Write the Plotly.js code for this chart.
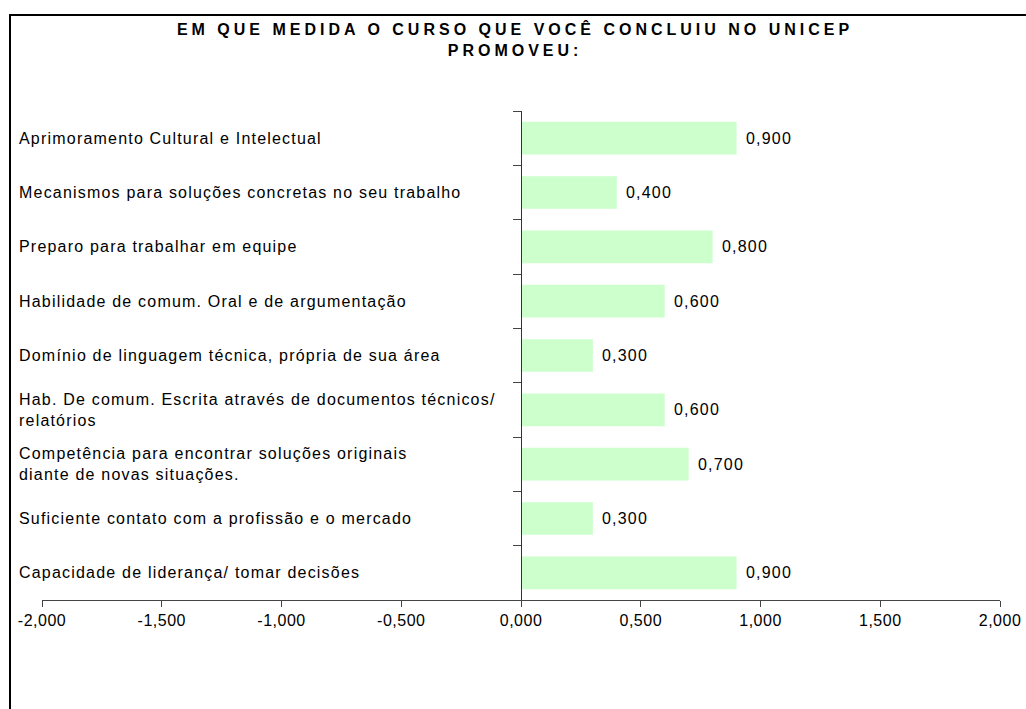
<!DOCTYPE html>
<html><head><meta charset="utf-8">
<script src="https://cdn.plot.ly/plotly-3.0.1.min.js"></script>
<style>
html,body{margin:0;padding:0;background:#fff;overflow:hidden;}
#wrap{position:relative;width:1026px;height:709px;}
#chart{position:absolute;left:0;top:0;width:1026px;height:709px;}
#frame{position:absolute;left:9px;top:14px;width:1040px;height:720px;border-left:2px solid #000;border-top:2px solid #000;pointer-events:none;}
.gtitle{letter-spacing:4px;}
.annotation-text{letter-spacing:1.2px;}
.xtick text{letter-spacing:0.5px;}
</style></head>
<body><div id="wrap"><div id="chart"></div><div id="frame"></div></div>
<script>
const titleText = "EM QUE MEDIDA O CURSO QUE VOCÊ CONCLUIU NO UNICEP<br>PROMOVEU:";
const categories = [
  "Aprimoramento Cultural e Intelectual",
  "Mecanismos para soluções concretas no seu trabalho",
  "Preparo para trabalhar em equipe",
  "Habilidade de comum. Oral e de argumentação",
  "Domínio de linguagem técnica, própria de sua área",
  "Hab. De comum. Escrita através de documentos técnicos/<br>relatórios",
  "Competência para encontrar soluções originais<br>diante de novas situações.",
  "Suficiente contato com a profissão e o mercado",
  "Capacidade de liderança/ tomar decisões"
];
const values = [0.9, 0.4, 0.8, 0.6, 0.3, 0.6, 0.7, 0.3, 0.9];
const xTickValues = [-2, -1.5, -1, -0.5, 0, 0.5, 1, 1.5, 2];
const xTickLabels = ["-2,000", "-1,500", "-1,000", "-0,500", "0,000", "0,500", "1,000", "1,500", "2,000"];

const fmt = v => v.toFixed(3).replace('.', ',');
const FONT = "Liberation Sans, Arial, sans-serif";

const trace = {
  type: 'bar', orientation: 'h',
  x: values, y: categories,
  marker: {color: '#CCFFCC', line: {width: 0}},
  width: 0.6,
  hoverinfo: 'skip'
};

const annotations = [];
categories.forEach((c, i) => {
  annotations.push({
    xref: 'paper', yref: 'y', x: 0, y: c, xanchor: 'left', yanchor: 'middle',
    xshift: -25, text: c, align: 'left', showarrow: false,
    font: {family: FONT, size: 16, color: '#000'}
  });
  annotations.push({
    xref: 'x', yref: 'y', x: values[i], y: c, xanchor: 'left', yanchor: 'middle',
    xshift: 7, text: fmt(values[i]), showarrow: false,
    font: {family: FONT, size: 16, color: '#000'}
  });
});

const layout = {
  width: 1026, height: 709,
  margin: {l: 42, r: 26, t: 111, b: 109, pad: 0},
  paper_bgcolor: '#fff', plot_bgcolor: '#fff',
  separators: ',.',
  showlegend: false,
  font: {family: FONT, size: 16, color: '#000'},
  title: {
    text: titleText, x: 0.502, xanchor: 'center', y: 0.950, yanchor: 'top',
    font: {family: FONT, size: 16, weight: 'bold', color: '#000'}
  },
  xaxis: {
    range: [-2, 2], tickvals: xTickValues, ticktext: xTickLabels,
    ticks: 'outside', ticklen: 6, tickcolor: '#444', tickwidth: 1,
    showline: true, linecolor: '#444', linewidth: 1,
    showgrid: false, zeroline: false,
    tickfont: {family: FONT, size: 16, color: '#000'}
  },
  yaxis: {
    type: 'category', autorange: 'reversed',
    showticklabels: false, ticks: 'outside', tickson: 'boundaries',
    ticklen: 8, tickcolor: '#444', tickwidth: 1,
    showline: true, linecolor: '#333', linewidth: 1,
    showgrid: false, zeroline: false,
    anchor: 'free', position: 0.5
  },
  annotations: annotations,
  hovermode: false
};

Plotly.newPlot('chart', [trace], layout, {staticPlot: true, displayModeBar: false});
</script>
</body></html>
